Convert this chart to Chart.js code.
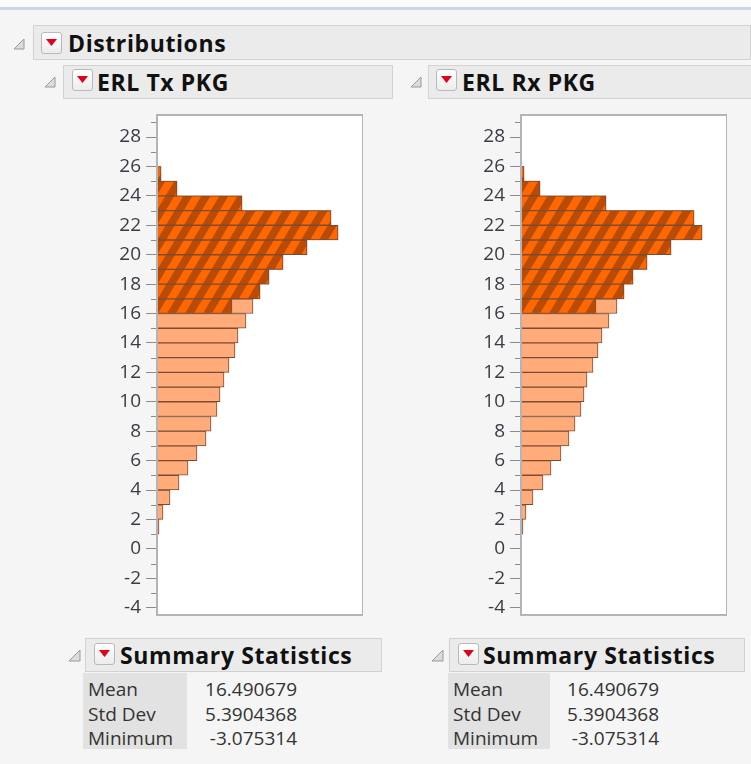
<!DOCTYPE html>
<html>
<head>
<meta charset="utf-8">
<script src="https://cdn.jsdelivr.net/npm/chart.js@4.4.1/dist/chart.umd.min.js"></script>
<style>
  body { margin: 0; width: 751px; height: 764px; background: #f5f5f5; position: relative; overflow: hidden;
         font-family: "Open Sans", "Noto Sans", sans-serif; color: #1a1a1a; }
  .abs { position: absolute; }
  .topband { left: 0; top: 0; width: 751px; height: 7px; background: #fbfbfb; }
  .blueline { left: 0; top: 7px; width: 751px; height: 3px; background: #c8d8e9; }
  .hdr { position: absolute; background: #ebebeb; border: 1px solid #d2d2d2; box-sizing: border-box; }
  .hdrtext { position: absolute; font-weight: 700; font-size: 23px; line-height: 24px; letter-spacing: 0.6px; color: #111; white-space: nowrap; }
  .btn { position: absolute; width: 21px; height: 22px; box-sizing: border-box; border: 1px solid #b9b9b9; border-radius: 3px;
         background: linear-gradient(#ffffff, #ececec); }
  .btn svg { position: absolute; left: 4px; top: 6px; }
  .tri { position: absolute; }
  .cells { position: absolute; background: #e2e2e2; }
  .row { position: absolute; font-size: 19px; line-height: 24px; color: #333; white-space: nowrap; }
  .val { text-align: right; }
  canvas { position: absolute; }
</style>
</head>
<body>
<div class="abs topband"></div>
<div class="abs blueline"></div>

<!-- Distributions header -->
<div class="hdr" style="left:33px;top:25px;width:718px;height:35px;"></div>
<svg class="tri" style="left:13px;top:38px" width="12" height="12"><polygon points="11,1 11,11 1,11" fill="#dcdcdc" stroke="#9a9a9a"/></svg>
<div class="btn" style="left:41px;top:32px;"><svg width="11" height="7"><polygon points="0,0 11,0 5.5,7" fill="#e0001b"/></svg></div>
<div class="hdrtext" style="left:68px;top:31px;">Distributions</div>

<!-- ERL Tx PKG header -->
<div class="hdr" style="left:63px;top:65px;width:330px;height:34px;"></div>
<svg class="tri" style="left:44px;top:76px" width="12" height="12"><polygon points="11,1 11,11 1,11" fill="#dcdcdc" stroke="#9a9a9a"/></svg>
<div class="btn" style="left:72px;top:69px;"><svg width="11" height="7"><polygon points="0,0 11,0 5.5,7" fill="#e0001b"/></svg></div>
<div class="hdrtext" style="left:97px;top:70px;">ERL Tx PKG</div>

<!-- ERL Rx PKG header -->
<div class="hdr" style="left:428px;top:65px;width:330px;height:34px;"></div>
<svg class="tri" style="left:410px;top:76px" width="12" height="12"><polygon points="11,1 11,11 1,11" fill="#dcdcdc" stroke="#9a9a9a"/></svg>
<div class="btn" style="left:436px;top:69px;"><svg width="11" height="7"><polygon points="0,0 11,0 5.5,7" fill="#e0001b"/></svg></div>
<div class="hdrtext" style="left:462px;top:70px;">ERL Rx PKG</div>

<canvas id="txChart" width="263" height="540" style="left:100px;top:95px;"></canvas>
<canvas id="rxChart" width="263" height="540" style="left:464px;top:95px;"></canvas>

<!-- Summary statistics, left -->
<div class="hdr" style="left:85px;top:638px;width:297px;height:34px;"></div>
<svg class="tri" style="left:68px;top:649px" width="13" height="13"><polygon points="12,1 12,12 1,12" fill="#dcdcdc" stroke="#9a9a9a"/></svg>
<div class="btn" style="left:94px;top:643px;"><svg width="11" height="7"><polygon points="0,0 11,0 5.5,7" fill="#e0001b"/></svg></div>
<div class="hdrtext" style="left:120px;top:643px;">Summary Statistics</div>
<div class="cells" style="left:83px;top:673px;width:104px;height:76px;"></div>
<div id="txStats"></div>

<!-- Summary statistics, right -->
<div class="hdr" style="left:449px;top:638px;width:296px;height:34px;"></div>
<svg class="tri" style="left:431px;top:649px" width="13" height="13"><polygon points="12,1 12,12 1,12" fill="#dcdcdc" stroke="#9a9a9a"/></svg>
<div class="btn" style="left:458px;top:643px;"><svg width="11" height="7"><polygon points="0,0 11,0 5.5,7" fill="#e0001b"/></svg></div>
<div class="hdrtext" style="left:483px;top:643px;">Summary Statistics</div>
<div class="cells" style="left:448px;top:673px;width:102px;height:76px;"></div>
<div id="rxStats"></div>

<script>
// histogram bins (lower edge, bin width 1)
const binLower = [1, 2, 3, 4, 5, 6, 7, 8, 9, 10, 11, 12, 13, 14, 15, 16, 17, 18, 19, 20, 21, 22, 23, 24, 25];

// ERL Tx PKG: all rows / selected rows per bin
const txCounts   = [2, 6, 13, 22, 31, 40, 49, 54, 60, 63, 67, 72, 78, 81, 89, 96, 103, 112, 126, 150, 181, 174, 85, 20, 4];
const txSelected = [0, 0, 0, 0, 0, 0, 0, 0, 0, 0, 0, 0, 0, 0, 0, 75, 103, 112, 126, 150, 181, 174, 85, 20, 4];

// ERL Rx PKG: all rows / selected rows per bin
const rxCounts   = [2, 5, 12, 22, 30, 40, 48, 54, 60, 63, 66, 72, 77, 81, 88, 96, 103, 112, 126, 150, 181, 173, 85, 19, 3];
const rxSelected = [0, 0, 0, 0, 0, 0, 0, 0, 0, 0, 0, 0, 0, 0, 0, 75, 103, 112, 126, 150, 181, 173, 85, 19, 3];

// axis ticks
const yMajorTicks = [-4, -2, 0, 2, 4, 6, 8, 10, 12, 14, 16, 18, 20, 22, 24, 26, 28];
const yMinorTicks = [-3, -1, 1, 3, 5, 7, 9, 11, 13, 15, 17, 19, 21, 23, 25, 27, 29];

// summary statistics
const statLabels = ['Mean', 'Std Dev', 'Minimum'];
const txStatValues = ['16.490679', '5.3904368', '-3.075314'];
const rxStatValues = ['16.490679', '5.3904368', '-3.075314'];

const lightFill = '#ffab7a';
const barEdge = '#7c4b33';
const tickColor = '#8c8c8c';

// diagonal hatch used for the selected rows
function makeHatch() {
    const w = 18, h = 30, sw = 9;
    const c = document.createElement('canvas');
    c.width = w; c.height = h;
    const g = c.getContext('2d');
    g.fillStyle = '#ff6800';
    g.fillRect(0, 0, w, h);
    g.fillStyle = '#b94b05';
    for (let x0 = -w; x0 <= w; x0 += w) {
        g.beginPath();
        g.moveTo(x0, h);
        g.lineTo(x0 + sw, h);
        g.lineTo(x0 + sw + w, 0);
        g.lineTo(x0 + w, 0);
        g.closePath();
        g.fill();
    }
    return g.createPattern(c, 'repeat');
}

// white plot box, minor ticks and the frame
const plotFrame = {
    id: 'plotFrame',
    beforeDraw(chart) {
        const a = chart.chartArea, ctx = chart.ctx;
        ctx.save();
        ctx.fillStyle = '#ffffff';
        ctx.fillRect(a.left, a.top, a.right - a.left, a.bottom - a.top);
        ctx.restore();
    },
    afterDraw(chart) {
        const a = chart.chartArea, ctx = chart.ctx, y = chart.scales.y;
        ctx.save();
        ctx.strokeStyle = tickColor;
        ctx.lineWidth = 1;
        yMinorTicks.forEach(v => {
            if (v < y.min || v > y.max) return;
            const p = Math.round(y.getPixelForValue(v)) + 0.5;
            ctx.beginPath();
            ctx.moveTo(a.left - 6, p);
            ctx.lineTo(a.left, p);
            ctx.stroke();
        });
        ctx.strokeStyle = '#b4b4b4';
        ctx.lineWidth = 2;
        ctx.strokeRect(a.left, a.top, a.right - a.left, a.bottom - a.top);
        ctx.restore();
    }
};

function histogram(canvasId, counts, selected) {
    const ctx = document.getElementById(canvasId).getContext('2d');
    const toPoints = arr => arr.map((v, i) => ({ x: v, y: binLower[i] + 0.5 }));
    const edgeWidth = c => (c.raw && c.raw.x > 0 ? 1 : 0);

    return new Chart(ctx, {
        type: 'bar',
        data: {
            datasets: [
                {
                    label: 'Selected',
                    data: toPoints(selected),
                    backgroundColor: makeHatch(),
                    borderColor: barEdge,
                    borderWidth: edgeWidth,
                    grouped: false,
                    order: 0,
                    barPercentage: 1,
                    categoryPercentage: 1
                },
                {
                    label: 'All',
                    data: toPoints(counts),
                    backgroundColor: lightFill,
                    borderColor: barEdge,
                    borderWidth: edgeWidth,
                    grouped: false,
                    order: 1,
                    barPercentage: 1,
                    categoryPercentage: 1
                }
            ]
        },
        options: {
            indexAxis: 'y',
            responsive: false,
            animation: false,
            layout: { padding: { top: 20, bottom: 20, left: 0, right: 0 } },
            plugins: { legend: { display: false }, tooltip: { enabled: false } },
            scales: {
                x: { type: 'linear', display: false, min: 0, max: 206 },
                y: {
                    type: 'linear',
                    offset: false,
                    min: -4.5,
                    max: 29.5,
                    afterBuildTicks(scale) { scale.ticks = yMajorTicks.map(v => ({ value: v })); },
                    afterFit(scale) { scale.width = 57; },
                    border: { display: false },
                    grid: { drawOnChartArea: false, tickLength: 11, color: tickColor, offset: false },
                    ticks: {
                        padding: 5,
                        color: '#383c44',
                        font: { family: '"Open Sans", "Noto Sans", sans-serif', size: 19 }
                    }
                }
            }
        },
        plugins: [plotFrame]
    });
}

histogram('txChart', txCounts, txSelected);
histogram('rxChart', rxCounts, rxSelected);

// summary tables
function statTable(id, left, labelW, valueRight, values) {
    const box = document.getElementById(id);
    statLabels.forEach((lab, i) => {
        const top = 677 + i * 24.5;
        const l = document.createElement('div');
        l.className = 'row';
        l.style.left = (left + 5) + 'px';
        l.style.top = top + 'px';
        l.textContent = lab;
        box.appendChild(l);
        const v = document.createElement('div');
        v.className = 'row val';
        v.style.left = (left + labelW) + 'px';
        v.style.width = (valueRight - left - labelW) + 'px';
        v.style.top = top + 'px';
        v.textContent = values[i];
        box.appendChild(v);
    });
}
statTable('txStats', 83, 104, 297, txStatValues);
statTable('rxStats', 448, 102, 659, rxStatValues);
</script>
</body>
</html>
